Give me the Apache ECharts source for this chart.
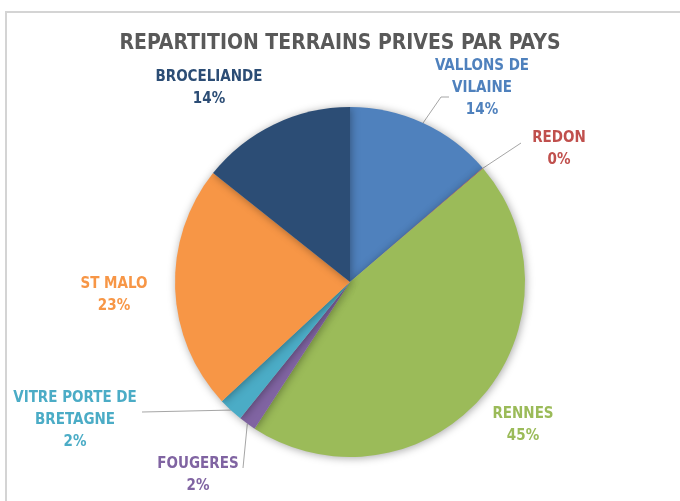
<!DOCTYPE html>
<html lang="fr">
<head>
	<meta charset="UTF-8">
	<title>REPARTITION TERRAINS PRIVES PAR PAYS</title>
	<style type="text/css">
		html, body{ margin: 0; padding: 0; background: #fff; }
		#a{ width: 680px; height: 501px; }
	</style>
</head>
<body>
	<div id="a"></div>
	<script type="text/javascript" src="https://cdn.jsdelivr.net/npm/echarts@6/dist/echarts.min.js"></script>
	<script type="text/javascript">
		// données (en %)
		var pays = ['VALLONS DE VILAINE', 'REDON', 'RENNES', 'FOUGERES', 'VITRE PORTE DE BRETAGNE', 'ST MALO', 'BROCELIANDE'];
		var valeurs = [13.7, 0.05, 45.4, 1.6, 2.3, 22.6, 14.3];
		var couleurs = ['#4f81bd', '#c0504d', '#9bbb59', '#8064a2', '#4bacc6', '#f79646', '#2c4d75'];
		// position des étiquettes (centre du texte)
		var posEtiquettes = [[482, 88], [559, 149], [523, 425], [198, 475], [75, 420], [114, 295], [209, 88]];
		// extrémité des traits de rappel (null = pas de trait)
		var finTraits = [[[441, 97], [449, 97]], [[521, 143]], null, [[243, 468]], [[142, 412]], null, null];

		var myChart = echarts.init(document.getElementById('a'));
		var d = [];
		for (var i = 0; i < pays.length; i++) {
			d.push({
				name: pays[i],
				value: valeurs[i],
				itemStyle: { color: couleurs[i] },
				label: { color: couleurs[i] },
				labelLine: { show: finTraits[i] !== null }
			});
		}

		var option = {
			backgroundColor: '#fff',
			animation: false,
			title: {
				text: 'REPARTITION TERRAINS PRIVES PAR PAYS',
				left: 'center',
				top: 28,
				textStyle: {
					fontFamily: 'DejaVu Sans Condensed, Liberation Sans',
					fontSize: 21,
					fontWeight: 'bold',
					color: '#595959'
				}
			},
			graphic: [{
				type: 'rect',
				shape: { x: 6, y: 12, width: 720, height: 540 },
				style: { fill: 'none', stroke: '#d4d4d4', lineWidth: 2 }
			}],
			series: [{
				type: 'pie',
				center: [350, 282],
				radius: 175,
				startAngle: 90,
				clockwise: true,
				data: d,
				itemStyle: {
					shadowBlur: 8,
					shadowColor: 'rgba(0,0,0,0.35)',
					shadowOffsetX: 1,
					shadowOffsetY: 1
				},
				label: {
					show: true,
					position: 'outside',
					fontFamily: 'DejaVu Sans Condensed, Liberation Sans',
					fontSize: 15,
					fontWeight: 'bold',
					lineHeight: 22,
					align: 'center',
					formatter: function (p) {
						return p.name.replace(' DE ', ' DE\n') + '\n' + Math.round(p.percent) + '%';
					}
				},
				labelLine: {
					lineStyle: { color: '#a6a6a6', width: 1 }
				},
				labelLayout: function (p) {
					var pt = posEtiquettes[p.dataIndex];
					var res = { x: pt[0], y: pt[1], align: 'center', verticalAlign: 'middle' };
					var fin = finTraits[p.dataIndex];
					if (fin && p.labelLinePoints) {
						res.labelLinePoints = [p.labelLinePoints[0]].concat(fin);
					}
					return res;
				}
			}]
		};
		myChart.setOption(option);
	</script>
</body>
</html>
